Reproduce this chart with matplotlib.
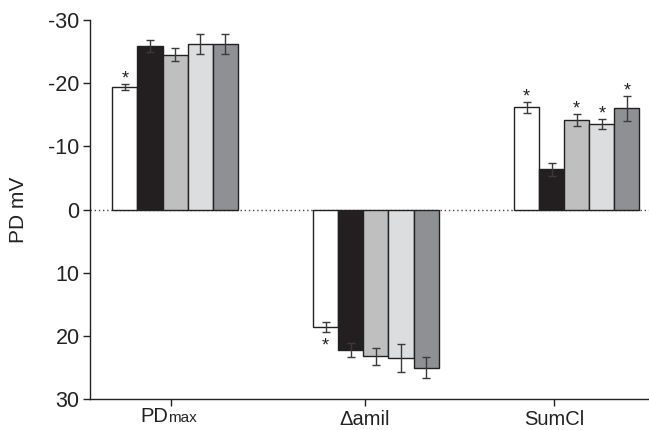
import numpy as np
import matplotlib
matplotlib.use("Agg")
import matplotlib.pyplot as plt
import matplotlib.transforms as mtransforms

plt.rcParams['font.family'] = ['Liberation Sans', 'DejaVu Sans']

# data (PD in mV; axis is inverted so negative values point up)
groups = ["PDmax", "Δamil", "SumCl"]
means = [
    [-19.4, -25.9, -24.5, -26.2, -26.2],
    [18.6, 22.2, 23.2, 23.5, 25.0],
    [-16.2, -6.4, -14.2, -13.5, -16.0],
]
errors = [
    [0.5, 0.95, 1.05, 1.6, 1.6],
    [0.75, 1.05, 1.35, 2.2, 1.7],
    [0.85, 1.0, 0.9, 0.8, 1.95],
]
significant = [
    [True, False, False, False, False],
    [True, False, False, False, False],
    [True, False, True, True, True],
]
bar_colors = ["#ffffff", "#231f20", "#bfbfbf", "#dcdddf", "#8f9093"]

fig = plt.figure(figsize=(6.49, 4.30), dpi=100)
ax = fig.add_axes([0.1387, 0.0714, 0.8613, 0.8821])

group_start = [0.89, 8.89, 16.89]
tick_pos = [3.24, 10.96, 18.49]

for g in range(len(groups)):
    for i in range(5):
        x = group_start[g] + i + 0.5
        m = means[g][i]
        e = errors[g][i]
        ax.bar(x, m, width=1.0, color=bar_colors[i], edgecolor="#222222",
               linewidth=1.0, zorder=2)
        ax.errorbar(x, m, yerr=e, fmt="none", ecolor="#3a3a3a",
                    elinewidth=1.0, capsize=3, capthick=1.0, zorder=3)
        if significant[g][i]:
            # the asterisk glyph sits high in its box, so shift more when below
            gap = 0.8 if m < 0 else 2.2
            ax.text(x, m + np.sign(m) * (e + gap), "*", ha="center",
                    va="center", fontsize=13, color="#222222", zorder=4)

ax.axhline(0, color="#444444", linestyle=(0, (1, 2)), linewidth=1.0, zorder=1)

ax.set_xlim(0, 22.27)
ax.set_ylim(30, -30)
ax.set_yticks([-30, -20, -10, 0, 10, 20, 30])
ax.set_yticklabels(["-30", "-20", "-10", "0", "10", "20", "30"])
ax.set_xticks(tick_pos)
ax.set_xticklabels(["", groups[1], groups[2]])
ax.tick_params(axis="both", length=5, width=1.0,
               color="#222222", labelcolor="#222222")
ax.tick_params(axis="y", labelsize=15.5, pad=2.5)
ax.tick_params(axis="x", labelsize=14.5, pad=2.5)

# PD with small "max" for the first category, on the same baseline
trans = mtransforms.blended_transform_factory(ax.transData, ax.transAxes)
off = mtransforms.offset_copy(trans, fig=fig, x=-3, y=-23, units="dots")
ax.text(tick_pos[0], 0, "PD", transform=off, ha="right", va="baseline",
        fontsize=14.5, color="#222222")
ax.text(tick_pos[0], 0, "max", transform=off, ha="left", va="baseline",
        fontsize=11, color="#222222")

for s in ["top", "right"]:
    ax.spines[s].set_visible(False)
for s in ["left", "bottom"]:
    ax.spines[s].set_linewidth(1.0)
    ax.spines[s].set_color("#222222")

ax.set_ylabel("PD mV", fontsize=15, color="#222222")
ax.yaxis.set_label_coords(-0.111, 0.5)

fig.savefig("out.png", dpi=100)
